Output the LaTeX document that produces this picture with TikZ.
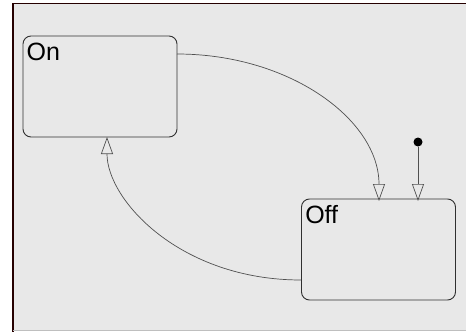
\documentclass[tikz,border=0pt]{standalone}
\usepackage{fontspec}
\setmainfont{Liberation Sans}
\usetikzlibrary{arrows.meta}
\definecolor{bgfill}{HTML}{E8E8E8}
\definecolor{boxline}{HTML}{303030}
\definecolor{wire}{HTML}{505050}
\begin{document}
\begin{tikzpicture}[x=1pt,y=-1pt,
  state/.style={draw=boxline, line width=0.9pt, rounded corners=8pt, minimum width=154pt, minimum height=101pt, inner sep=0pt},
  statelabel/.style={anchor=north west, inner sep=0pt, font=\fontsize{25}{28}\selectfont},
  trans/.style={draw=wire, line width=0.7pt, -{Triangle[open, length=17pt, width=12pt]}}]
\useasboundingbox (0,0) rectangle (466,332);
\fill[white] (0,0) rectangle (466,332);
\fill[bgfill] (13,3.5) rectangle (466,330.5);
\draw[black!85!red, line width=1.2pt] (13,332) -- (13,3.5) -- (466,3.5);
\draw[black!25, line width=1pt] (13,330.8) -- (466,330.8);
\node[state] (on) at (100,86.5) {};
\node[state] (off) at (378.5,249.5) {};
\node[statelabel] (onlabel) at ([xshift=4pt,yshift=-7pt]on.north west) {On};
\node[statelabel] (offlabel) at ([xshift=4pt,yshift=-7pt]off.north west) {Off};
\coordinate (onout) at (177,54);
\coordinate (offin) at (379,201);
\coordinate (offout) at (301,280);
\coordinate (onin) at (107,137);
\draw[trans] (onout) .. controls (290,54) and (379,120) .. (offin);
\draw[trans] (offout) .. controls (180,280) and (107,200) .. (onin);
\node[circle, fill=black, inner sep=0pt, minimum size=9pt] (init) at (418,142) {};
\coordinate (offinit) at (418,201);
\draw[trans] (init) -- (offinit);
\end{tikzpicture}
\end{document}
